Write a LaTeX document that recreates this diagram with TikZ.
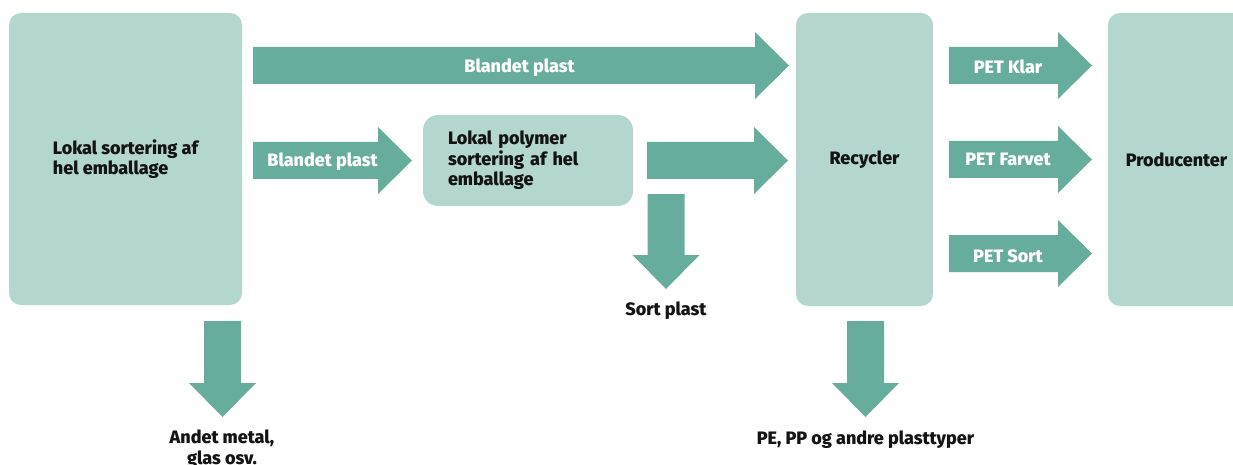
\documentclass[tikz,border=0pt]{standalone}
\usepackage{fontspec}
\setmainfont{Fira Sans}[BoldFont={Fira Sans ExtraBold}]
\usetikzlibrary{calc}
\definecolor{boxgreen}{HTML}{B3D7CF}
\definecolor{flowgreen}{HTML}{66AD9E}
\definecolor{ink}{HTML}{141414}
\begin{document}
\begin{tikzpicture}[x=1pt,y=-1pt,
  every node/.style={font=\fontsize{18}{20.5}\selectfont\bfseries},
  stage/.style={fill=boxgreen, rounded corners=12pt, text=ink, inner sep=0pt},
  flowlabel/.style={text=white, anchor=base, inner sep=0pt},
  outlabel/.style={text=ink, inner sep=0pt, align=center},
  % block arrow pointing right, from start point to tip
  rightflow/.style={to path={let \p1=(\tikztostart), \p2=(\tikztotarget) in
     (\x1,\y1-18.5pt) -- (\x2-34pt,\y1-18.5pt) -- (\x2-34pt,\y1-33.5pt) -- (\x2,\y2)
     -- (\x2-34pt,\y1+33.5pt) -- (\x2-34pt,\y1+18.5pt) -- (\x1,\y1+18.5pt) -- cycle}},
  % block arrow pointing down, from start point to tip
  downflow/.style={to path={let \p1=(\tikztostart), \p2=(\tikztotarget) in
     (\x1-18.5pt,\y1) -- (\x1-18.5pt,\y2+34pt) -- (\x1-33.5pt,\y2+34pt) -- (\x2,\y2)
     -- (\x1+33.5pt,\y2+34pt) -- (\x1+18.5pt,\y2+34pt) -- (\x1+18.5pt,\y1) -- cycle}}
]
\useasboundingbox (0,0) rectangle (1233,465);
\clip (0,0) rectangle (1233,465);

% process stages
\node[stage, minimum width=233pt, minimum height=292pt, align=left] (local) at (125.5,159) {Lokal sortering af\\hel emballage};
\node[stage, rounded corners=15pt, minimum width=210pt, minimum height=91pt, text width=160pt, align=left] (polymer) at (528,160.5) {Lokal polymer\\sortering af hel\\emballage};
\node[stage, minimum width=137pt, minimum height=293pt] (recycler) at (864.5,159.5) {Recycler};
\node[stage, minimum width=137pt, minimum height=293pt] (producer) at (1176.5,159.5) {Producenter};

% arrow end points
\coordinate (mixAs) at (253,65.5);   \coordinate (mixAe) at (789,65.5);
\coordinate (mixBs) at (253,160.5);  \coordinate (mixBe) at (412,160.5);
\coordinate (polyS) at (647,160.5);  \coordinate (polyE) at (788,160.5);
\coordinate (blackS) at (666,194);   \coordinate (blackE) at (666,289);
\coordinate (restS) at (222.5,321);  \coordinate (restE) at (222.5,417);
\coordinate (otherS) at (865.5,321); \coordinate (otherE) at (865.5,417);
\coordinate (klarS) at (949,65.5);   \coordinate (klarE) at (1092,65.5);
\coordinate (farvS) at (949,159.5);  \coordinate (farvE) at (1092,159.5);
\coordinate (sortS) at (949,253.5);  \coordinate (sortE) at (1092,253.5);

% material flows
\fill[flowgreen] (mixAs) to[rightflow] (mixAe);
\fill[flowgreen] (mixBs) to[rightflow] (mixBe);
\fill[flowgreen] (polyS) to[rightflow] (polyE);
\fill[flowgreen] (blackS) to[downflow] (blackE);
\fill[flowgreen] (restS) to[downflow] (restE);
\fill[flowgreen] (otherS) to[downflow] (otherE);
\fill[flowgreen] (klarS) to[rightflow] (klarE);
\fill[flowgreen] (farvS) to[rightflow] (farvE);
\fill[flowgreen] (sortS) to[rightflow] (sortE);

% flow labels
\node[flowlabel] (lmixA) at (519.5,73) {Blandet plast};
\node[flowlabel] (lmixB) at (322.5,166.7) {Blandet plast};
\node[flowlabel] (lklar) at (1008,74) {PET Klar};
\node[flowlabel] (lfarv) at (1008,166) {PET Farvet};
\node[flowlabel] (lsort) at (1008,262) {PET Sort};

% outputs
\node[outlabel, anchor=base] (black) at (666,315) {Sort plast};
\node[outlabel, anchor=north] (rest) at (222,430) {Andet metal,\\glas osv.};
\node[outlabel, anchor=base] (other) at (865.5,444) {PE, PP og andre plasttyper};
\end{tikzpicture}
\end{document}
